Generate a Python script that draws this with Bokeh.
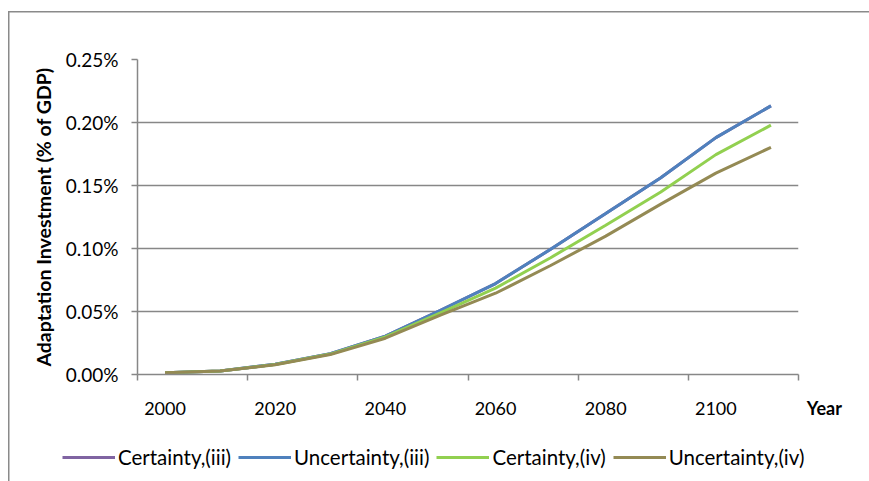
from bokeh.plotting import figure
from bokeh.layouts import column
from bokeh.models import (Range1d, LinearAxis, FixedTicker, Legend, LegendItem,
                          PrintfTickFormatter, Grid, ColumnDataSource)
from bokeh.embed import file_html
from bokeh.resources import INLINE

# ---- data (values in % of GDP) ----
years = [2000, 2010, 2020, 2030, 2040, 2050, 2060, 2070, 2080, 2090, 2100, 2110]
certainty_iii = [0.0014, 0.0028, 0.0081, 0.0165, 0.0305, 0.0510, 0.0722, 0.0994, 0.1277, 0.1562, 0.1880, 0.2132]
uncertainty_iii = [0.0014, 0.0028, 0.0081, 0.0165, 0.0305, 0.0510, 0.0722, 0.0994, 0.1277, 0.1562, 0.1880, 0.2132]
certainty_iv = [0.0014, 0.0028, 0.0080, 0.0162, 0.0298, 0.0490, 0.0686, 0.0927, 0.1185, 0.1448, 0.1745, 0.1979]
uncertainty_iv = [0.0014, 0.0027, 0.0078, 0.0158, 0.0288, 0.0472, 0.0645, 0.0865, 0.1098, 0.1352, 0.1598, 0.1803]
series_names = ["Certainty,(iii)", "Uncertainty,(iii)", "Certainty,(iv)", "Uncertainty,(iv)"]
series_colors = ["#8064A2", "#4F81BD", "#92D050", "#948A54"]
x_tick_labels = [2000, 2020, 2040, 2060, 2080, 2100]
x_boundaries = [1995, 2015, 2035, 2055, 2075, 2095, 2115]
y_ticks = [0.0, 0.05, 0.10, 0.15, 0.20, 0.25]
x_title = "Year"
y_title = "Adaptation Investment (% of GDP)"

FONT = "Lato"
GRID = "#878787"
FRAME = "#8a8a8a"
all_values = [certainty_iii, uncertainty_iii, certainty_iv, uncertainty_iv]

# ---------------- main chart ----------------
p = figure(width=869, height=428, output_backend="svg", toolbar_location=None,
           x_axis_type=None, y_axis_type=None,
           x_range=Range1d(1995, 2115), y_range=Range1d(0, 0.25),
           min_border_left=137, min_border_right=71, min_border_top=59, min_border_bottom=54,
           background_fill_color="white", border_fill_alpha=0)
p.outline_line_color = None
p.frame_align = False
p.styles = {
    "background": (f"linear-gradient({FRAME}, {FRAME}) 8px 11px / 1.5px calc(100% - 11px) no-repeat, "
                   f"linear-gradient({FRAME}, {FRAME}) 8px 11px / calc(100% - 8px) 1.5px no-repeat, white")
}

yticker = FixedTicker(ticks=y_ticks)
yaxis = LinearAxis(ticker=yticker, formatter=PrintfTickFormatter(format="%.2f%%"),
                   axis_label=y_title,
                   axis_label_text_font=FONT, axis_label_text_font_style="bold",
                   axis_label_text_font_size="19.5px", axis_label_standoff=8,
                   major_label_text_font=FONT, major_label_text_font_size="19px",
                   major_label_standoff=13, major_tick_out=6, major_tick_in=0,
                   minor_tick_out=0, minor_tick_in=0,
                   axis_line_color=GRID, axis_line_width=1.5,
                   major_tick_line_color=GRID, major_tick_line_width=1.5,
                   major_label_text_color="black", axis_label_text_color="black")
p.add_layout(yaxis, "left")

# x axis: category-boundary tick marks (minor) + labels at category centres (major)
xaxis = LinearAxis(ticker=FixedTicker(ticks=x_tick_labels, minor_ticks=x_boundaries),
                   major_label_text_font=FONT, major_label_text_font_size="18px",
                   major_label_standoff=21, major_tick_out=0, major_tick_in=0,
                   minor_tick_out=6, minor_tick_in=0,
                   axis_line_color=GRID, axis_line_width=1.5,
                   major_tick_line_color=None,
                   minor_tick_line_color=GRID, minor_tick_line_width=1.5,
                   major_label_text_color="black")
p.add_layout(xaxis, "below")

# "Year" caption: bold label just right of the axis end, pulled up to the tick-label row
# (leading no-break spaces shift the centred label to the right of the last tick)
xtitle_axis = LinearAxis(ticker=FixedTicker(ticks=[x_boundaries[-1]], minor_ticks=[]),
                         major_label_overrides={x_boundaries[-1]: "\u00a0" * 12 + x_title},
                         major_label_text_font=FONT, major_label_text_font_size="18px",
                         major_label_text_font_style="bold",
                         major_label_standoff=-21, major_tick_out=0, major_tick_in=0,
                         minor_tick_out=0, minor_tick_in=0,
                         axis_line_color=None, major_tick_line_color=None,
                         minor_tick_line_color=None, major_label_text_color="black")
p.add_layout(xtitle_axis, "below")

p.add_layout(Grid(dimension=1, ticker=yticker, grid_line_color=GRID, grid_line_width=1.5))

for name, color, vals in zip(series_names, series_colors, all_values):
    src = ColumnDataSource(dict(x=years, y=vals))
    p.line("x", "y", source=src, line_color=color, line_width=3)

# ---------------- legend strip (same series, legend only) ----------------
q = figure(width=869, height=53, output_backend="svg", toolbar_location=None,
           x_axis_type=None, y_axis_type=None,
           x_range=Range1d(0, 1), y_range=Range1d(10, 11),
           min_border=0, min_border_left=0, min_border_right=0,
           min_border_top=0, min_border_bottom=0,
           background_fill_alpha=0, border_fill_alpha=0)
q.outline_line_color = None
q.frame_align = False
q.grid.visible = False
q.styles = {
    "background": f"linear-gradient({FRAME}, {FRAME}) 8px 0px / 1.5px 100% no-repeat, white"
}
items = []
for name, color, vals in zip(series_names, series_colors, all_values):
    src = ColumnDataSource(dict(x=years, y=vals))
    r = q.line("x", "y", source=src, line_color=color, line_width=3)
    items.append(LegendItem(label=name, renderers=[r]))

legend = Legend(items=items, orientation="horizontal", location=(62, 12),
                glyph_width=53, glyph_height=20, label_standoff=3, spacing=7,
                padding=0, margin=0, border_line_color=None, background_fill_alpha=0,
                label_text_font=FONT, label_text_font_size="20.5px", label_text_color="black")
q.add_layout(legend)

layout = column(p, q, spacing=0)
open("out.html", "w").write(file_html(layout, INLINE))
